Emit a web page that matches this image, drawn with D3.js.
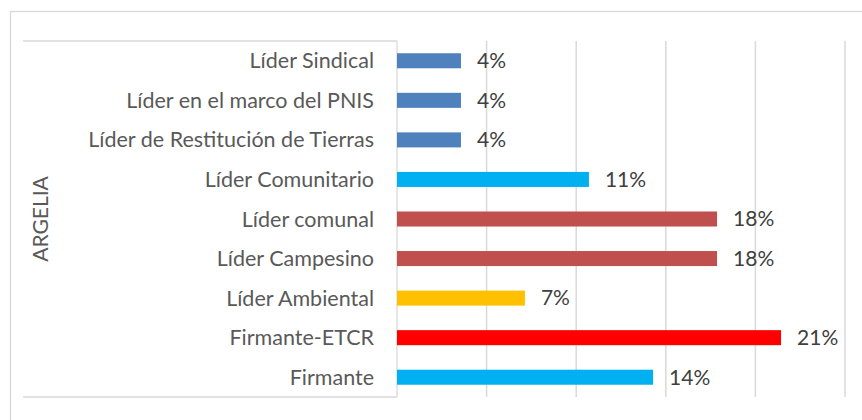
<!DOCTYPE html>
<html>
<head>
<meta charset="utf-8">
<script src="https://cdn.jsdelivr.net/npm/d3@7"></script>
<style>
  body { margin: 0; background: #fff; }
  text { font-family: Lato, "Open Sans", sans-serif; }
</style>
</head>
<body>
<svg></svg>
<script>
var width = 862, height = 420;

// categories top to bottom
var categories = ["Líder Sindical", "Líder en el marco del PNIS", "Líder de Restitución de Tierras",
                  "Líder Comunitario", "Líder comunal", "Líder Campesino", "Líder Ambiental",
                  "Firmante-ETCR", "Firmante"];
var values = [3.57, 3.57, 3.57, 10.71, 17.86, 17.86, 7.14, 21.43, 14.29];
var barColors = ["#4F81BD", "#4F81BD", "#4F81BD", "#00B0F0", "#C0504D", "#C0504D", "#FFC000", "#FF0000", "#00B0F0"];
var xTicks = [0, 5, 10, 15, 20, 25];
var groupLabel = "ARGELIA";

var margin = {top: 41, right: 17, bottom: 23, left: 397};

var svg = d3.select('svg')
            .attr('width', width)
            .attr('height', height);

// outer chart border
svg.append('rect')
    .attr('x', 10.5).attr('y', 11.5)
    .attr('width', width).attr('height', height)
    .attr('fill', 'none')
    .attr('stroke', '#d9d9d9')
    .attr('stroke-width', 1.3);

var x = d3.scaleLinear()
            .domain([0, 25])
            .range([margin.left, width - margin.right]);

var y = d3.scaleBand()
            .domain(categories)
            .range([margin.top, height - margin.bottom])
            .paddingInner(0.62)
            .paddingOuter(0.31);

// gridlines
svg.append('g')
    .selectAll('line')
    .data(xTicks.slice(1))
    .enter()
    .append('line')
        .attr('x1', d => x(d)).attr('x2', d => x(d))
        .attr('y1', margin.top).attr('y2', height - margin.bottom)
        .attr('stroke', '#d9d9d9')
        .attr('stroke-width', 1.5);

// category axis frame (multi-level)
var frame = svg.append('g').attr('stroke', '#d9d9d9').attr('stroke-width', 1.3);
frame.append('line')
    .attr('x1', 23).attr('x2', margin.left)
    .attr('y1', margin.top).attr('y2', margin.top);
frame.append('line')
    .attr('x1', 23).attr('x2', margin.left)
    .attr('y1', height - margin.bottom).attr('y2', height - margin.bottom);
frame.append('line')
    .attr('x1', margin.left).attr('x2', margin.left)
    .attr('y1', margin.top).attr('y2', height - margin.bottom);

// bars
svg.append('g')
    .selectAll('rect')
    .data(categories)
    .enter()
    .append('rect')
        .attr('x', x(0))
        .attr('y', d => y(d))
        .attr('width', (d, i) => x(values[i]) - x(0))
        .attr('height', y.bandwidth())
        .attr('fill', (d, i) => barColors[i]);

// value labels
svg.append('g')
    .selectAll('text')
    .data(categories)
    .enter()
    .append('text')
        .attr('x', (d, i) => x(values[i]) + 16)
        .attr('y', d => y(d) + y.bandwidth() / 2)
        .attr('dy', '0.35em')
        .attr('fill', '#404040')
        .style('font-size', '21px')
        .text((d, i) => d3.format('.0f')(values[i]) + '%');

// category labels
svg.append('g')
    .selectAll('text')
    .data(categories)
    .enter()
    .append('text')
        .attr('x', 374)
        .attr('y', d => y(d) + y.bandwidth() / 2)
        .attr('dy', '0.35em')
        .attr('text-anchor', 'end')
        .attr('fill', '#595959')
        .style('font-size', '21.5px')
        .text(d => d);

// group label
svg.append('text')
    .attr('transform', `translate(48,${(margin.top + height - margin.bottom) / 2}) rotate(-90)`)
    .attr('text-anchor', 'middle')
    .attr('fill', '#595959')
    .style('font-size', '21px')
    .text(groupLabel);
</script>
</body>
</html>
